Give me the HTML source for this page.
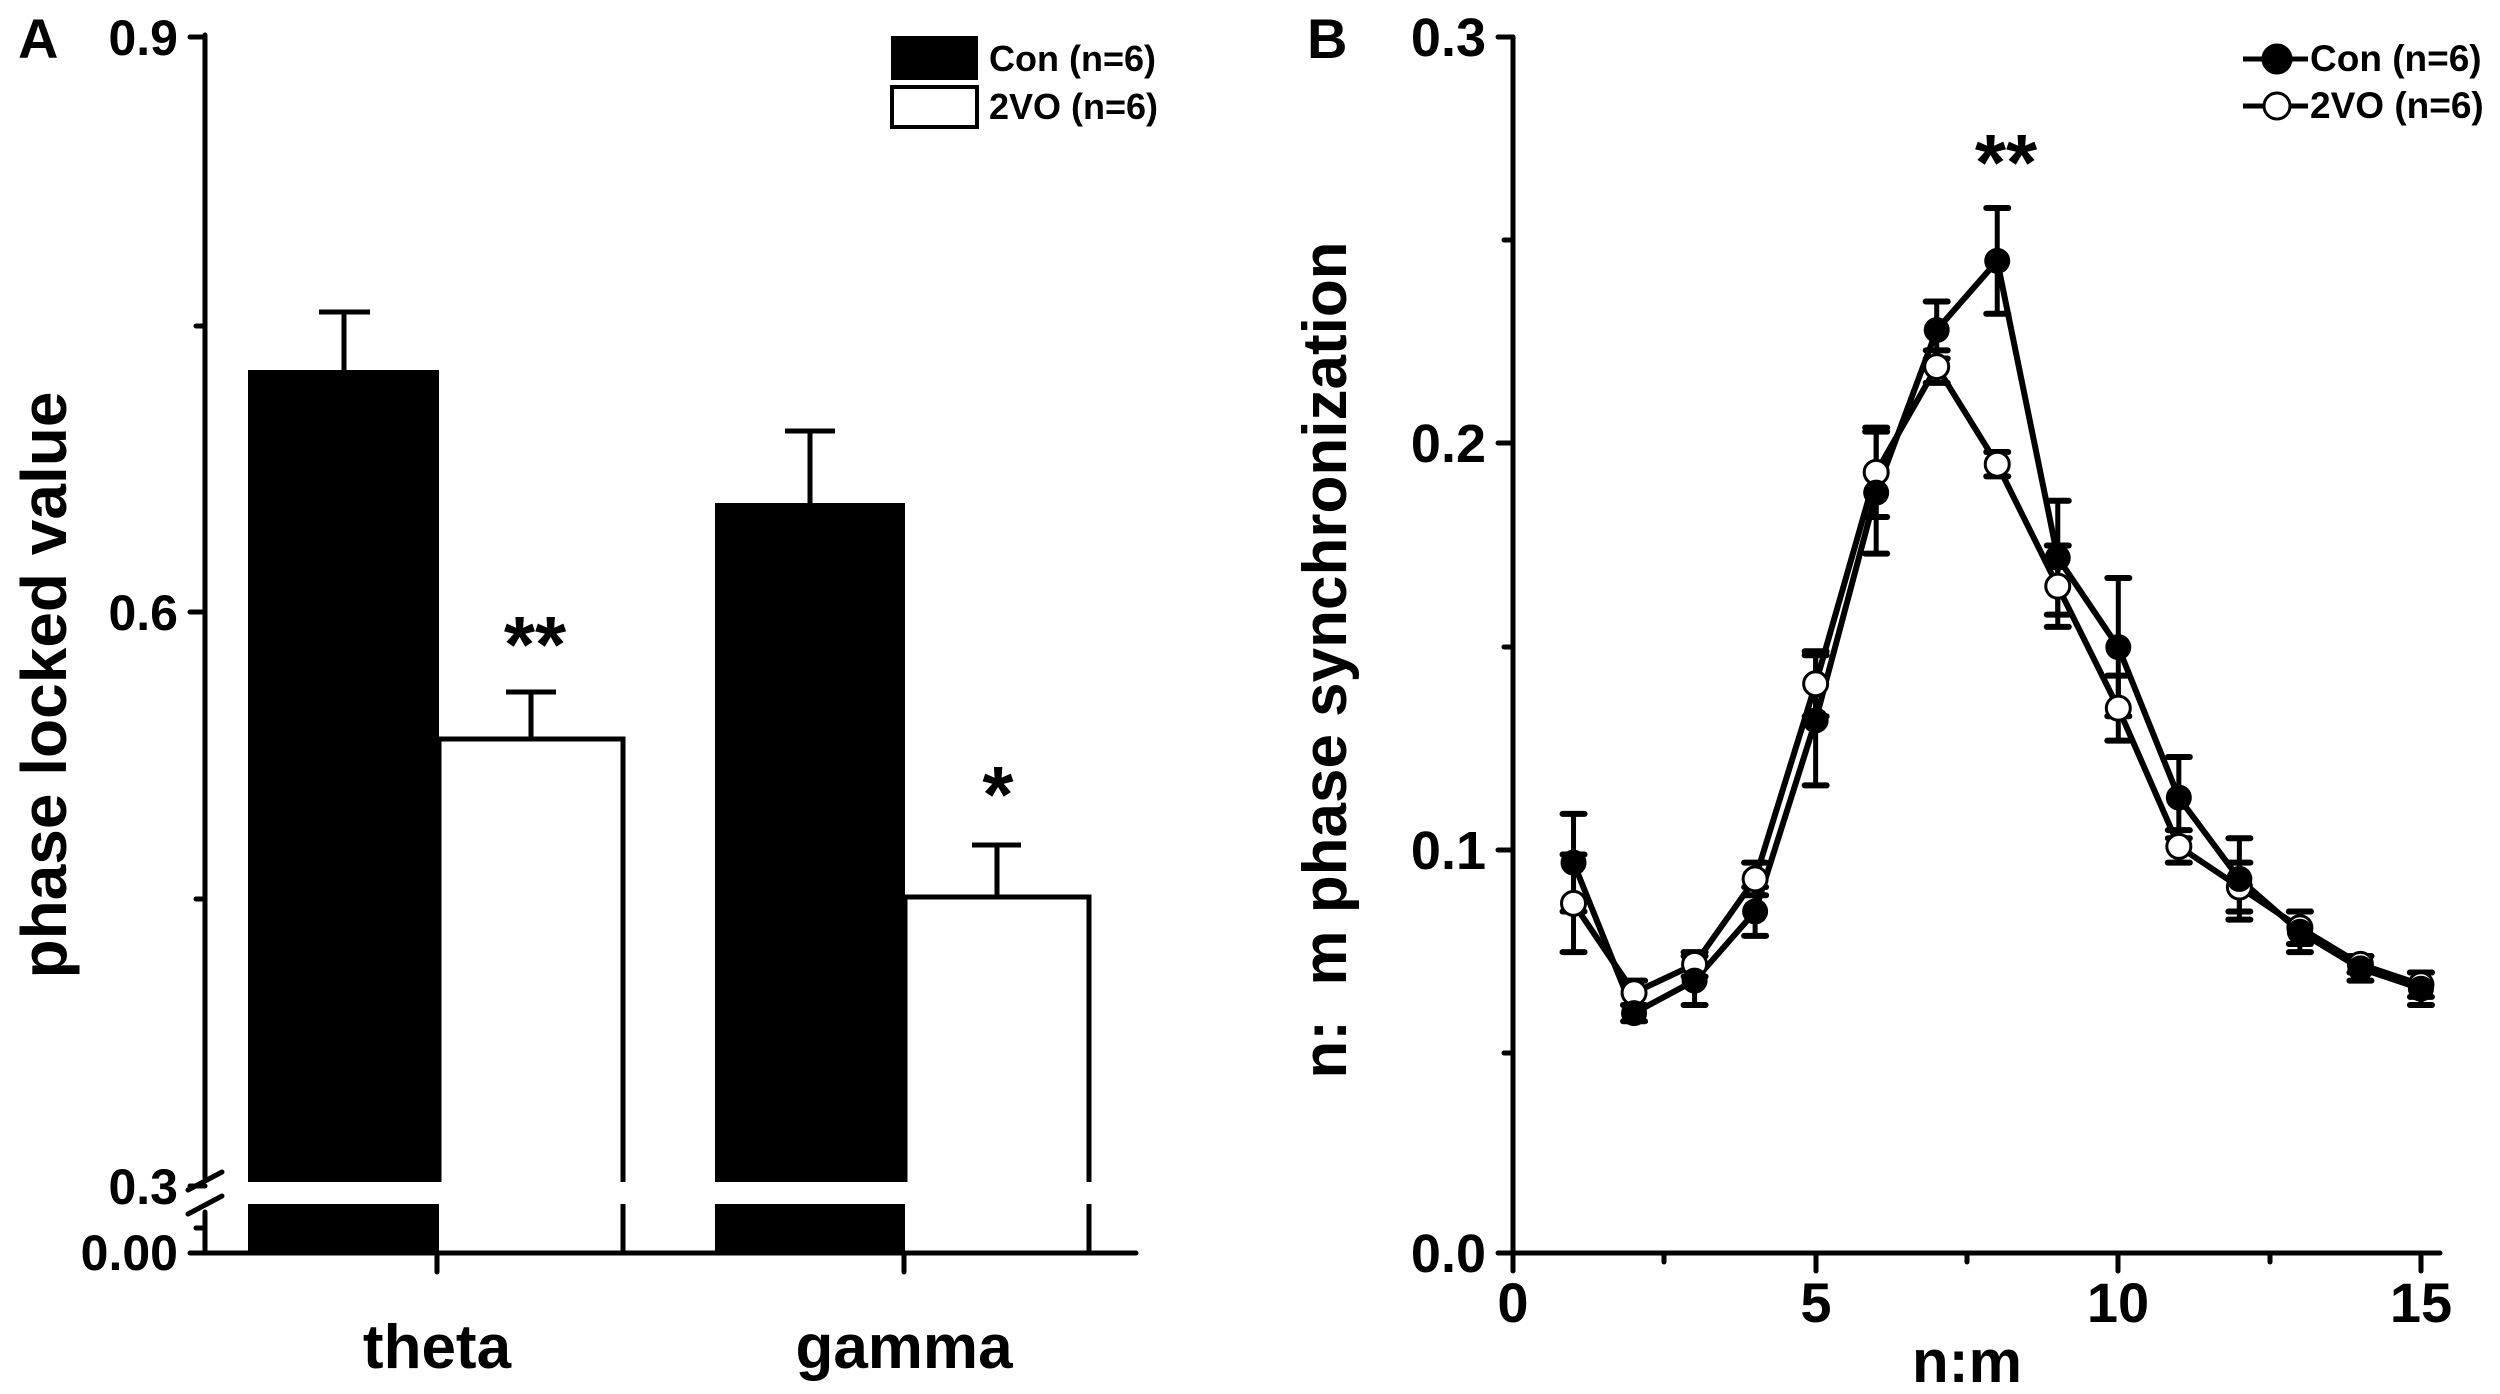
<!DOCTYPE html>
<html><head><meta charset="utf-8"><style>
html,body{margin:0;padding:0;background:#fff}
svg{display:block}
text{font-family:"Liberation Sans",Arial,sans-serif;font-weight:bold;fill:#000}
</style></head><body>
<svg width="2500" height="1394" viewBox="0 0 2500 1394" xmlns="http://www.w3.org/2000/svg">
<!-- Panel A -->
<text x="18" y="58" font-size="56">A</text>
<g stroke="#000" stroke-width="5" fill="none" stroke-linecap="round">
<line x1="205" y1="35" x2="205" y2="1178"/>
<line x1="205" y1="1212" x2="205" y2="1253"/>
<line x1="190" y1="1253" x2="1136" y2="1253"/>
<line x1="190" y1="37" x2="205" y2="37"/>
<line x1="196" y1="326" x2="205" y2="326"/>
<line x1="190" y1="612" x2="205" y2="612"/>
<line x1="196" y1="899" x2="205" y2="899"/>
<line x1="190" y1="1186" x2="205" y2="1186"/>
<line x1="196" y1="1228" x2="205" y2="1228"/>
<line x1="188" y1="1190" x2="222" y2="1172"/>
<line x1="188" y1="1214" x2="222" y2="1196"/>
<line x1="437" y1="1253" x2="437" y2="1272"/>
<line x1="904" y1="1253" x2="904" y2="1272"/>
</g>
<g font-size="50" text-anchor="end">
<text x="178" y="55">0.9</text>
<text x="178" y="630">0.6</text>
<text x="178" y="1204">0.3</text>
<text x="178" y="1270">0.00</text>
</g>
<!-- bars -->
<rect x="248" y="370" width="191" height="812" fill="#000"/>
<rect x="248" y="1204" width="191" height="49" fill="#000"/>
<rect x="715" y="503" width="190" height="679" fill="#000"/>
<rect x="715" y="1204" width="190" height="49" fill="#000"/>
<g stroke="#000" stroke-width="5" fill="none">
<polyline points="439,1182 439,739 623,739 623,1182"/>
<line x1="623" y1="1204" x2="623" y2="1253"/>
<polyline points="905,1182 905,897 1089,897 1089,1182"/>
<line x1="1089" y1="1204" x2="1089" y2="1253"/>
<line x1="344" y1="370" x2="344" y2="312"/><line x1="319" y1="312" x2="370" y2="312"/>
<line x1="531" y1="739" x2="531" y2="692"/><line x1="506" y1="692" x2="556" y2="692"/>
<line x1="810" y1="503" x2="810" y2="431"/><line x1="785" y1="431" x2="835" y2="431"/>
<line x1="997" y1="897" x2="997" y2="845"/><line x1="972" y1="845" x2="1021" y2="845"/>
</g>
<text x="535" y="672" font-size="80" text-anchor="middle">**</text>
<text x="998" y="822" font-size="80" text-anchor="middle">*</text>
<text x="437" y="1368" font-size="62" text-anchor="middle">theta</text>
<text x="904" y="1368" font-size="62" text-anchor="middle">gamma</text>
<text transform="translate(66,685) rotate(-90)" font-size="64" text-anchor="middle">phase locked value</text>
<!-- legend A -->
<rect x="891" y="36" width="87" height="44" fill="#000"/>
<rect x="892" y="87" width="85" height="40" fill="#fff" stroke="#000" stroke-width="4"/>
<text x="989" y="71" font-size="36">Con (n=6)</text>
<text x="989" y="119" font-size="36">2VO (n=6)</text>

<!-- Panel B -->
<text x="1307" y="58" font-size="56">B</text>
<g stroke="#000" stroke-width="5" fill="none" stroke-linecap="round">
<line x1="1513" y1="37" x2="1513" y2="1271"/>
<line x1="1498" y1="1253" x2="2440" y2="1253"/>
<line x1="1498" y1="37" x2="1513" y2="37"/>
<line x1="1504" y1="240" x2="1513" y2="240"/>
<line x1="1498" y1="443" x2="1513" y2="443"/>
<line x1="1504" y1="647" x2="1513" y2="647"/>
<line x1="1498" y1="850" x2="1513" y2="850"/>
<line x1="1504" y1="1053" x2="1513" y2="1053"/>
<line x1="1664" y1="1253" x2="1664" y2="1262"/>
<line x1="1816" y1="1253" x2="1816" y2="1271"/>
<line x1="1967" y1="1253" x2="1967" y2="1262"/>
<line x1="2118" y1="1253" x2="2118" y2="1271"/>
<line x1="2270" y1="1253" x2="2270" y2="1262"/>
<line x1="2421" y1="1253" x2="2421" y2="1271"/>
</g>
<g font-size="54" text-anchor="end">
<text x="1486" y="56">0.3</text>
<text x="1486" y="462">0.2</text>
<text x="1486" y="869">0.1</text>
<text x="1486" y="1272">0.0</text>
</g>
<g font-size="56" text-anchor="middle">
<text x="1513" y="1322">0</text>
<text x="1816" y="1322">5</text>
<text x="2118" y="1322">10</text>
<text x="2421" y="1322">15</text>
</g>
<text x="1967" y="1382" font-size="60" text-anchor="middle">n:m</text>
<text transform="translate(1346,660) rotate(-90)" font-size="62" text-anchor="middle" xml:space="preserve">n:  m phase synchronization</text>
<text x="2006" y="190" font-size="80" text-anchor="middle">**</text>
<g id="plot"></g>
<!-- legend B -->
<g stroke="#000" stroke-width="5">
<line x1="2243" y1="59" x2="2308" y2="59"/>
<line x1="2243" y1="106" x2="2308" y2="106"/>
</g>
<circle cx="2277" cy="59" r="14" fill="#000" stroke="#000" stroke-width="3"/>
<circle cx="2277" cy="106" r="13" fill="#fff" stroke="#000" stroke-width="3"/>
<text x="2310" y="71" font-size="37">Con (n=6)</text>
<text x="2310" y="118" font-size="37">2VO (n=6)</text>
<script>
(function(){
var ns="http://www.w3.org/2000/svg",g=document.getElementById("plot");
var X=function(v){return 1513+60.53*v},Y=function(v){return 1253-4066*v};
var con=[[.096,.012],[.059,.002],[.067,.006],[.084,.006],[.131,.016],[.187,.015],[.227,.007],[.244,.013],[.171,.014],[.149,.017],[.112,.010],[.092,.010],[.079,.005],[.070,.003],[.065,.004]];
var vo=[[.086,.012],[.064,.003],[.071,.003],[.092,.004],[.140,.008],[.192,.011],[.218,.004],[.194,.003],[.164,.010],[.134,.008],[.100,.004],[.090,.006],[.080,.004],[.071,.002],[.066,.003]];
function el(n,a){var e=document.createElementNS(ns,n);for(var k in a)e.setAttribute(k,a[k]);g.appendChild(e);return e;}
function series(d){
var pts=d.map(function(p,i){return X(i+1)+","+Y(p[0]);}).join(" ");
el("polyline",{points:pts,fill:"none",stroke:"#000","stroke-width":6,"stroke-linejoin":"round"});
d.forEach(function(p,i){var x=X(i+1),t=Y(p[0]+p[1]),b=Y(p[0]-p[1]);
el("line",{x1:x,y1:t,x2:x,y2:b,stroke:"#000","stroke-width":5});
el("line",{x1:x-11,y1:t,x2:x+11,y2:t,stroke:"#000","stroke-width":6,"stroke-linecap":"round"});
el("line",{x1:x-11,y1:b,x2:x+11,y2:b,stroke:"#000","stroke-width":6,"stroke-linecap":"round"});});
}
series(vo);series(con);
vo.forEach(function(p,i){el("circle",{cx:X(i+1),cy:Y(p[0]),r:12,fill:"#fff",stroke:"#000","stroke-width":3});});
con.forEach(function(p,i){el("circle",{cx:X(i+1),cy:Y(p[0]),r:13,fill:"#000"});});
})();
</script>
</svg>
</body></html>
